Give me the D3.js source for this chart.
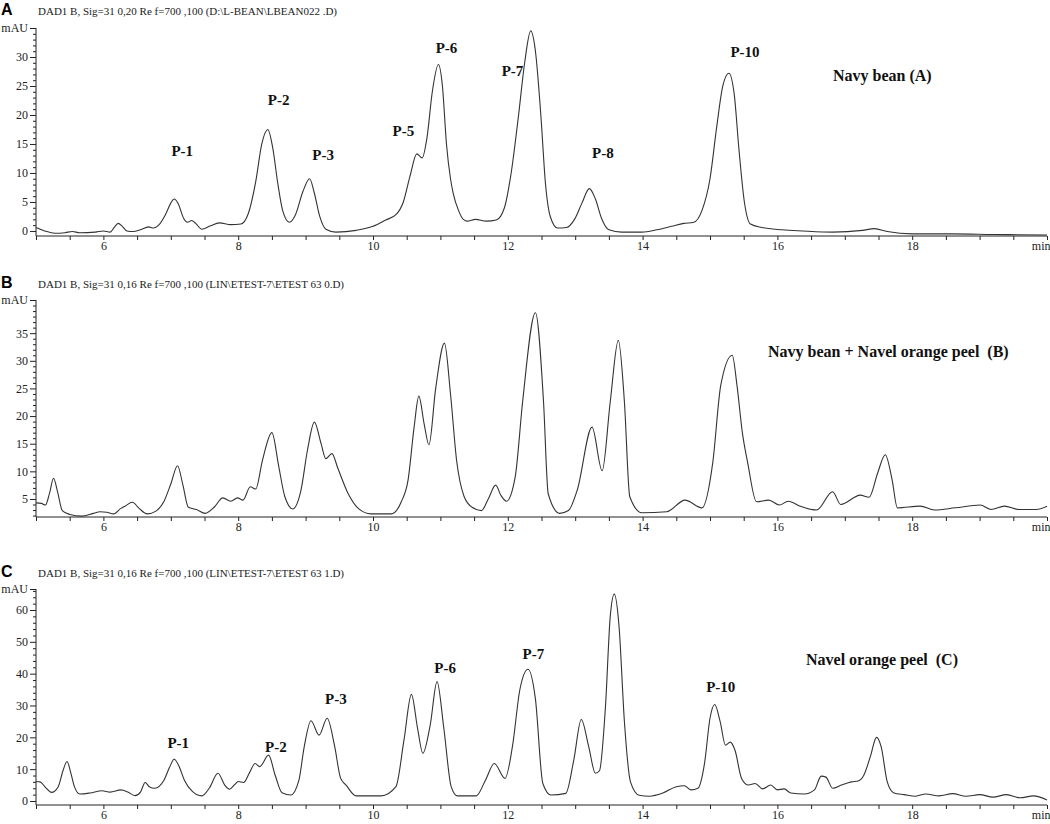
<!DOCTYPE html>
<html><head><meta charset="utf-8">
<script src="https://cdn.jsdelivr.net/npm/d3@7"></script>
<style>body{margin:0;background:#fff}svg{display:block}svg text{white-space:pre}</style>
</head><body><svg id="chart" width="1050" height="824"></svg>
<script>
// ---------- DATA ----------
const xTickValues = [6, 8, 10, 12, 14, 16, 18, 20];
const xTickLabels = ["6", "8", "10", "12", "14", "16", "18", "min"];

const yTicksA = [0, 5, 10, 15, 20, 25, 30];
const yTicksB = [5, 10, 15, 20, 25, 30, 35];
const yTicksC = [0, 10, 20, 30, 40, 50, 60];

const headerA = "DAD1 B, Sig=31 0,20 Re f=700 ,100 (D:\\L-BEAN\\LBEAN022 .D)";
const headerB = "DAD1 B, Sig=31 0,16 Re f=700 ,100 (LIN\\ETEST-7\\ETEST 63 0.D)";
const headerC = "DAD1 B, Sig=31 0,16 Re f=700 ,100 (LIN\\ETEST-7\\ETEST 63 1.D)";

const sampleA = "Navy bean (A)";
const sampleB = "Navy bean + Navel orange peel  (B)";
const sampleC = "Navel orange peel  (C)";

// [time (min), absorbance (mAU)]
const traceA = [
  [5.0,0.6],[5.13,0.0],[5.28,-0.4],[5.43,-0.3],[5.54,-0.1],[5.65,-0.3],[5.88,-0.2],[6.0,0.0],[6.1,-0.2],
  [6.16,0.6],[6.22,1.3],[6.28,0.8],[6.35,0.0],[6.44,-0.1],[6.55,0.2],[6.67,0.7],[6.74,0.5],[6.82,1.0],
  [6.92,2.8],[7.0,4.8],[7.05,5.5],[7.11,4.7],[7.19,2.2],[7.25,1.5],[7.31,1.8],[7.37,1.3],[7.46,0.3],
  [7.59,0.9],[7.72,1.4],[7.89,1.1],[8.04,1.2],[8.15,3.0],[8.26,8.5],[8.35,15.0],[8.44,17.5],[8.51,14.5],
  [8.59,8.0],[8.66,3.5],[8.76,1.5],[8.85,2.8],[8.96,6.8],[9.06,9.0],[9.13,6.5],[9.21,2.5],[9.3,0.3],
  [9.45,-0.2],[9.75,0.1],[10.0,0.8],[10.19,1.9],[10.34,2.8],[10.45,5.0],[10.55,9.5],[10.65,13.3],
  [10.73,12.6],[10.8,16],[10.88,24],[10.97,28.7],[11.03,25],[11.09,15],[11.15,9],[11.19,6.5],
  [11.27,3.5],[11.34,2.0],[11.4,1.7],[11.52,2.0],[11.68,1.7],[11.83,1.9],[11.95,4],[12.05,10],
  [12.16,20],[12.25,29],[12.34,34.5],[12.41,31],[12.49,20],[12.56,8],[12.63,2.5],[12.74,0.5],
  [12.87,0.6],[12.99,2.0],[13.1,4.8],[13.21,7.3],[13.3,5.5],[13.39,2.2],[13.5,0.2],[13.69,-0.2],
  [13.99,-0.2],[14.21,0.2],[14.43,0.8],[14.61,1.3],[14.76,1.5],[14.88,3.5],[15.0,9],[15.1,18],
  [15.19,25],[15.28,27.2],[15.36,23.5],[15.43,14],[15.51,5],[15.6,1.2],[15.77,0.6],[16.07,0.2],
  [16.37,0.0],[16.82,-0.2],[17.26,0.1],[17.44,0.4],[17.63,-0.1],[18.0,-0.5],[18.6,-0.5],[19.2,-0.6],[20.0,-0.7]
];

const traceB = [
  [5.0,4.3],[5.08,4.2],[5.14,3.9],[5.2,6.0],[5.26,8.75],[5.32,6.3],[5.39,2.9],[5.5,2.2],[5.68,1.9],
  [5.85,2.4],[5.95,2.7],[6.05,2.6],[6.15,2.3],[6.26,3.3],[6.32,3.7],[6.43,4.4],[6.53,3.3],[6.65,2.3],
  [6.78,2.8],[6.9,4.6],[7.0,7.7],[7.1,11.0],[7.18,7.5],[7.26,3.5],[7.38,3.1],[7.51,2.4],[7.65,3.6],
  [7.77,5.2],[7.89,4.6],[7.99,5.2],[8.07,4.8],[8.18,7.2],[8.26,6.8],[8.36,12],[8.5,17.0],[8.6,11],
  [8.69,5.5],[8.81,3.2],[8.93,6.5],[9.03,14],[9.13,18.9],[9.23,15.0],[9.3,12.3],[9.39,13.2],[9.48,10.5],
  [9.63,6.0],[9.79,3.2],[9.97,2.3],[10.27,2.3],[10.42,4.5],[10.52,8.4],[10.61,18],[10.68,23.6],
  [10.76,18.5],[10.83,14.8],[10.93,25],[11.06,33.2],[11.15,24],[11.24,12],[11.35,5.5],[11.47,3.5],
  [11.61,2.9],[11.71,5.0],[11.82,7.5],[11.9,5.6],[11.98,4.6],[12.11,9.0],[12.22,22.6],[12.41,38.7],
  [12.53,22.6],[12.6,5.9],[12.77,2.4],[12.9,2.9],[13.03,6.6],[13.25,18.0],[13.4,10.1],[13.52,22.6],
  [13.64,33.7],[13.73,22.6],[13.81,5.4],[13.99,2.5],[14.36,2.7],[14.63,4.8],[14.88,3.4],[15.04,11.5],
  [15.16,25.6],[15.33,31.0],[15.4,25.6],[15.48,17.0],[15.56,11.5],[15.69,4.5],[15.87,4.8],[16.03,3.9],
  [16.16,4.6],[16.34,3.7],[16.58,3.0],[16.82,6.3],[16.94,4.0],[17.23,5.7],[17.36,5.3],[17.49,9.8],
  [17.6,13.0],[17.7,8.6],[17.78,3.4],[18.12,3.7],[18.33,3.0],[18.64,3.4],[19.01,3.9],[19.17,3.1],
  [19.37,3.7],[19.58,3.1],[19.84,3.1],[20.0,3.7]
];

const traceC = [
  [5.0,6.1],[5.06,6.0],[5.14,4.3],[5.23,2.7],[5.33,4.5],[5.4,9.5],[5.46,12.4],[5.52,8.5],[5.57,4.5],
  [5.65,2.2],[5.8,2.5],[5.98,3.2],[6.1,2.8],[6.26,3.5],[6.36,2.8],[6.47,1.7],[6.55,2.8],[6.62,5.8],
  [6.68,4.5],[6.76,4.0],[6.9,6.6],[6.98,10.5],[7.05,13.1],[7.13,10.5],[7.2,6.6],[7.32,3.0],[7.46,1.6],
  [7.57,4.0],[7.7,8.7],[7.8,5.0],[7.87,3.7],[7.95,5.2],[8.0,6.1],[8.08,5.8],[8.17,9],[8.25,11.8],
  [8.32,10.8],[8.45,14.4],[8.55,8],[8.65,2.6],[8.78,1.9],[8.9,6.5],[8.98,17.1],[9.08,25.2],[9.2,20.7],
  [9.32,26.0],[9.43,17.3],[9.52,7.1],[9.6,5.0],[9.75,1.6],[10.12,1.6],[10.34,4.5],[10.46,19.2],
  [10.57,33.5],[10.66,23.0],[10.74,15.0],[10.85,24],[10.95,37.5],[11.05,23],[11.16,4.5],[11.25,1.6],
  [11.53,1.6],[11.67,6.6],[11.8,11.8],[11.96,7.1],[12.07,17.3],[12.18,35.1],[12.3,41.4],[12.41,32],
  [12.52,5.5],[12.64,1.9],[12.86,2.4],[12.98,13],[13.09,25.6],[13.2,17.1],[13.3,8.7],[13.36,9.5],
  [13.45,30],[13.52,58],[13.58,65],[13.65,55],[13.73,25],[13.82,6],[13.95,1.8],[14.1,1.5],[14.3,2.5],
  [14.5,4.5],[14.62,4.8],[14.72,3.5],[14.82,4],[14.92,12],[15.0,26],[15.07,30.3],[15.15,25],[15.23,17.5],
  [15.3,18.5],[15.37,16],[15.47,7],[15.57,5],[15.67,5.5],[15.78,3.8],[15.9,5],[16.0,3.5],[16.1,3.8],
  [16.2,2.5],[16.4,2.2],[16.55,3.5],[16.65,7.8],[16.72,7.5],[16.82,4],[16.95,5],[17.1,6],[17.2,6.3],
  [17.28,8],[17.38,14],[17.47,20],[17.54,17],[17.63,6],[17.73,2.5],[17.88,2],[18.05,1.5],[18.2,2.2],
  [18.4,1.6],[18.6,2.3],[18.8,1.5],[19.0,2.0],[19.2,1.2],[19.4,2.0],[19.6,1.0],[19.8,1.6],[20.0,0.3]
];

// peak annotations: [label, time, mAU]
const peaksA = [["P-1",7.17,13.0],["P-2",8.60,21.8],["P-3",9.26,12.3],["P-5",10.45,16.4],
  ["P-6",11.09,30.7],["P-7",12.07,26.7],["P-8",13.41,12.6],["P-10",15.52,30.0]];
const peaksC = [["P-1",7.11,16.7],["P-2",8.56,15.4],["P-3",9.45,30.5],["P-6",11.07,40.2],
  ["P-7",12.38,44.6],["P-10",15.16,34.2]];

// ---------- DRAW ----------
const svg = d3.select("#chart");
const serif = "'Liberation Serif','Times New Roman',serif";
const ink = "#222";

const panels = [
  {letter:"A", top:0, header:headerA, trace:traceA, yTicks:yTicksA, yDomain:[-0.87,35], yRange:[236,28],
   minorStep:1, sample:sampleA, sampleAt:[833,81], peaks:peaksA},
  {letter:"B", top:273, header:headerB, trace:traceB, yTicks:yTicksB, yDomain:[1.74,41], yRange:[517,300],
   minorStep:1, sample:sampleB, sampleAt:[768,357], peaks:[]},
  {letter:"C", top:562, header:headerC, trace:traceC, yTicks:yTicksC, yDomain:[-1.26,66.6], yRange:[805,589],
   minorStep:2, sample:sampleC, sampleAt:[806,665], peaks:peaksC}
];

const x = d3.scaleLinear().domain([5, 20]).range([36, 1047]);

panels.forEach(p => {
  const g = svg.append("g");
  const y = d3.scaleLinear().domain(p.yDomain).range(p.yRange);

  g.append("text").attr("x", 1).attr("y", p.top + 15)
    .attr("font-family", "'Liberation Sans',Arial,sans-serif").attr("font-weight", "bold")
    .attr("font-size", 16).attr("fill", "#000").text(p.letter);
  g.append("text").attr("x", 38).attr("y", p.top + 15)
    .attr("font-family", serif).attr("font-size", 11).attr("fill", ink).text(p.header);

  // x axis
  const xAxis = d3.axisBottom(x)
    .tickValues(d3.range(5, 20.01, 0.5))
    .tickSize(4)
    .tickFormat(d => { const i = xTickValues.indexOf(d); return i >= 0 ? xTickLabels[i] : ""; });
  const gx = g.append("g").attr("transform", `translate(0,${p.yRange[0]})`).call(xAxis);
  gx.select(".domain").attr("stroke", ink).attr("d", `M${x(5)},0H${x(20)}`);
  gx.selectAll(".tick line").attr("stroke", ink);
  gx.selectAll(".tick text").attr("font-family", serif).attr("font-size", 12).attr("fill", ink)
    .attr("y", 14).attr("dy", 0);
  gx.selectAll(".tick").filter(d => Math.abs(d - 20) < 1e-6).select("text").attr("text-anchor", "end").attr("dx", "3");

  // y axis minor
  const [lo, hi] = p.yDomain;
  const minor = d3.range(Math.ceil(lo / p.minorStep) * p.minorStep, hi, p.minorStep).filter(v => !p.yTicks.includes(v));
  const gym = g.append("g").attr("transform", `translate(${x(5)},0)`)
    .call(d3.axisLeft(y).tickValues(minor).tickSize(3).tickFormat(""));
  gym.select(".domain").remove();
  gym.selectAll(".tick line").attr("stroke", ink);

  const gy = g.append("g").attr("transform", `translate(${x(5)},0)`)
    .call(d3.axisLeft(y).tickValues(p.yTicks.concat([hi])).tickSize(6)
      .tickFormat(d => d === hi ? "mAU" : String(d)));
  gy.select(".domain").attr("stroke", ink).attr("d", `M0,${p.yRange[0]}V${p.yRange[1]}`);
  gy.selectAll(".tick line").attr("stroke", ink);
  gy.selectAll(".tick text").attr("font-family", serif).attr("font-size", 12).attr("fill", ink).attr("x", -8);

  // trace
  const line = d3.line().x(d => x(d[0])).y(d => y(d[1])).curve(d3.curveMonotoneX);
  g.append("path").datum(p.trace).attr("d", line)
    .attr("fill", "none").attr("stroke", "#333").attr("stroke-width", 1.1);

  // labels
  g.append("text").attr("x", p.sampleAt[0]).attr("y", p.sampleAt[1])
    .attr("font-family", serif).attr("font-weight", "bold").attr("font-size", 16).attr("fill", "#111").text(p.sample);
  p.peaks.forEach(pk => {
    g.append("text").attr("x", x(pk[1])).attr("y", y(pk[2])).attr("text-anchor", "middle")
      .attr("font-family", serif).attr("font-weight", "bold").attr("font-size", 15).attr("fill", "#111").text(pk[0]);
  });
});
</script></body></html>
